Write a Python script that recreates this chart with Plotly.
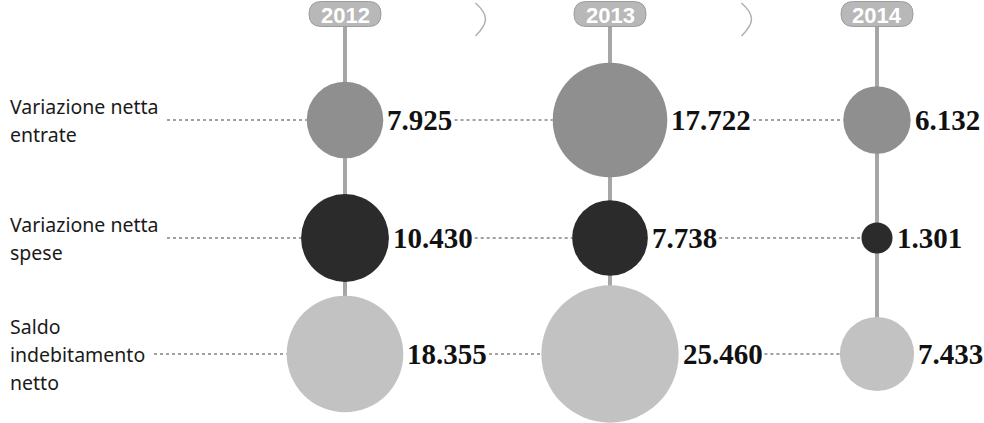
import plotly.graph_objects as go
import math

# ---- data ----
years = ["2012", "2013", "2014"]
categories = [
    ["Variazione netta", "entrate"],
    ["Variazione netta", "spese"],
    ["Saldo", "indebitamento", "netto"],
]
entrate = [7.925, 17.722, 6.132]
spese = [10.430, 7.738, 1.301]
saldo = [18.355, 25.460, 7.433]
series = [entrate, spese, saldo]

# ---- layout constants (pixel space) ----
W, H = 984, 423
col_x = [345, 610, 877]
row_y = [120, 238, 354]
row_colors = ["#8f8f8f", "#2b2b2b", "#c2c2c2"]
leader_start = [167, 167, 154]
pill_y, pill_w, pill_h = 14, 72, 25
SIZEREF = 0.0027  # area mode: diameter = sqrt(2*v/sizeref)

def diam(v):
    return math.sqrt(2 * v / SIZEREF)

def fmt(v):
    return f"{v:.3f}"

VAL_FS = 29
def text_w(s):
    return sum(0.25 * VAL_FS if c == "." else 0.5 * VAL_FS for c in s)

fig = go.Figure()

# vertical connectors
for cx in col_x:
    fig.add_trace(go.Scatter(x=[cx, cx], y=[pill_y + pill_h / 2, row_y[-1]], mode="lines",
                             line=dict(color="#a6a6a6", width=4), hoverinfo="skip"))

# dotted leaders
for r, vals in enumerate(series):
    starts = [leader_start[r]]
    ends = []
    for c, v in enumerate(vals):
        d = diam(v)
        ends.append(col_x[c] - d / 2)
        starts.append(col_x[c] + d / 2 + 3 + text_w(fmt(v)) + 3)
    for s, e in zip(starts[:-1], ends):
        fig.add_trace(go.Scatter(x=[s, e], y=[row_y[r], row_y[r]], mode="lines",
                                 line=dict(color="#444444", width=1.2, dash="dot"), hoverinfo="skip"))

# bubbles
for r, vals in enumerate(series):
    fig.add_trace(go.Scatter(
        x=col_x, y=[row_y[r]] * len(vals), mode="markers",
        marker=dict(size=vals, sizemode="area", sizeref=SIZEREF, color=row_colors[r],
                    line=dict(width=0), opacity=1),
        hoverinfo="skip"))

annotations = []
# value labels
for r, vals in enumerate(series):
    for c, v in enumerate(vals):
        annotations.append(dict(
            x=col_x[c] + diam(v) / 2 + 2, y=row_y[r], xref="x", yref="y",
            text=fmt(v), showarrow=False, xanchor="left", yanchor="middle",
            font=dict(family="Liberation Serif", size=VAL_FS, color="#111111", weight="bold")))

# category labels
LINE_H = 28
for r, lines in enumerate(categories):
    n = len(lines)
    for i, ln in enumerate(lines):
        annotations.append(dict(
            x=8, y=row_y[r] + (i - (n - 1) / 2) * LINE_H, xref="x", yref="y",
            text=ln, showarrow=False, xanchor="left", yanchor="middle",
            font=dict(family="Noto Sans", size=19.5, color="#1a1a1a")))

shapes = []
# year pills
for cx, yr in zip(col_x, years):
    x0, x1 = cx - pill_w / 2, cx + pill_w / 2
    y0, y1 = pill_y - pill_h / 2, pill_y + pill_h / 2
    rr = pill_h / 2
    path = (f"M {x0+rr},{y0} L {x1-rr},{y0} Q {x1},{y0} {x1},{y0+rr} Q {x1},{y1} {x1-rr},{y1} "
            f"L {x0+rr},{y1} Q {x0},{y1} {x0},{y0+rr} Q {x0},{y0} {x0+rr},{y0} Z")
    shapes.append(dict(type="path", path=path, xref="x", yref="y",
                       fillcolor="#b8b8b8", line=dict(color="#9c9c9c", width=1), layer="above"))
    annotations.append(dict(x=cx, y=pill_y + 1, xref="x", yref="y", text=yr, showarrow=False,
                            xanchor="center", yanchor="middle",
                            font=dict(family="Liberation Sans", size=22, color="#ffffff", weight="bold")))

# chevrons between years
for i in range(len(col_x) - 1):
    mx = (col_x[i] + col_x[i + 1]) / 2 + 3
    shapes.append(dict(type="path", xref="x", yref="y",
                       path=f"M {mx-5},{3} Q {mx+5},{12} {mx+5},{19} Q {mx+5},{26} {mx-5},{36}",
                       line=dict(color="#b0b0b0", width=1.5)))

fig.update_layout(
    width=W, height=H, margin=dict(l=0, r=0, t=0, b=0),
    paper_bgcolor="white", plot_bgcolor="white", showlegend=False,
    xaxis=dict(range=[0, W], visible=False, fixedrange=True),
    yaxis=dict(range=[H, 0], visible=False, fixedrange=True),
    annotations=annotations, shapes=shapes,
)

fig.write_html("out.html")
